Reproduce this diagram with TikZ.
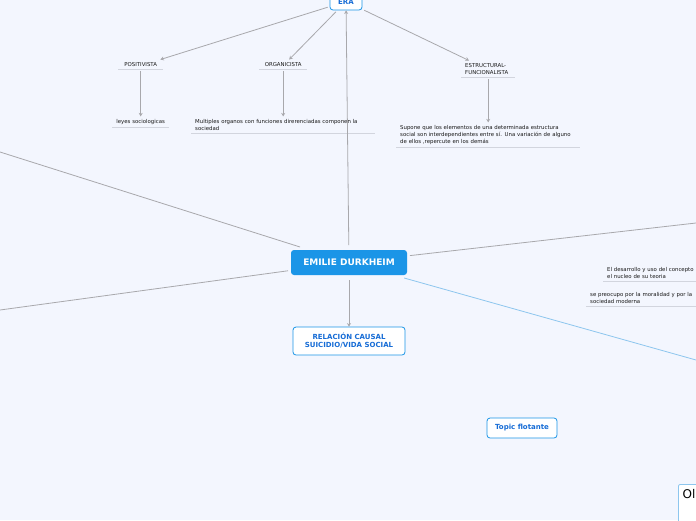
\documentclass[tikz,border=0pt]{standalone}
\usepackage{fontspec}
\setmainfont{DejaVu Sans}
\usetikzlibrary{arrows.meta, positioning}
\definecolor{bgcol}{RGB}{243,246,254}
\definecolor{mainblue}{RGB}{27,149,231}
\definecolor{textblue}{RGB}{22,108,214}
\definecolor{linegray}{RGB}{168,168,172}
\definecolor{ulgray}{RGB}{210,213,222}
\definecolor{lightblue}{RGB}{141,198,238}

\begin{document}
\begin{tikzpicture}[x=1pt,y=-1pt]

	\tikzset{
		main/.style={
				rounded corners=3pt, fill=mainblue, text=white, inner sep=0pt, outer sep=3pt, minimum width=116pt, minimum height=25pt, font=\fontsize{9}{11}\selectfont\bfseries
			},
		topic/.style={
				rounded corners=3pt, draw=mainblue, fill=white, text=textblue, line width=0.8pt, inner sep=0pt, align=center, font=\fontsize{7}{8}\selectfont\bfseries
			},
		leaf/.style={
				anchor=south west, text=black!90, align=left, inner xsep=4pt, inner ysep=2.5pt, font=\fontsize{5.4}{7}\selectfont,
				append after command={(\tikzlastnode.south west) edge[draw=ulgray, line width=0.8pt] (\tikzlastnode.south east)}
			},
		link/.style={
				draw=linegray, line width=0.8pt
			},
		arr/.style={
				link, -{Stealth[length=3.5pt, width=4pt]}, shorten <=2pt
			},
	}
	\useasboundingbox[fill=bgcol] (0,0) rectangle (696,520);
	\clip (0,0) rectangle (696,520);

	\node[main](c1) at (349,262.5){EMILIE DURKHEIM};
	\node[topic, minimum width=32pt, minimum height=17pt](e1) at (346,1.5){ERA};
	\node[topic, minimum width=112pt, minimum height=28pt](r1) at (349,341){RELACIÓN CAUSAL\\SUICIDIO/VIDA SOCIAL};
	\node[topic, minimum width=70pt, minimum height=20pt](t1) at (522,428){Topic flotante};

	\node[leaf, minimum width=45pt](p1) at (118,69){POSITIVISTA};
	\node[leaf, minimum width=57pt](l1) at (112,127){leyes sociologicas};
	\node[leaf, minimum width=48pt](o1) at (259,69){ORGANICISTA};
	\node[leaf, text width=176pt](m1) at (191,133){Multiples organos con funciones direrenciadas componen la\\
		sociedad};
	\node[leaf, text width=46pt](f1) at (461,77){ESTRUCTURAL-\\
		FUNCIONALISTA};
	\node[leaf, text width=176pt](s1) at (396,147){Supone que los elementos de una determinada estructura\\
		social son interdependientes entre sí. Una variación de alguno\\
		de ellos ,repercute en los demás};
	\node[leaf, text width=100pt](d1) at (603,281){El desarrollo y uso del concepto\\
		el nucleo de su teoria};
	\node[leaf, text width=110pt](v1) at (586,306){se preocupo por la moralidad y por la\\
		sociedad moderna};

	\node[draw=lightblue, fill=white, rounded corners=2pt, line width=0.8pt, anchor=north west, minimum width=40pt, minimum height=50pt](b1) at (678,484){};
	\node[anchor=north west, inner sep=0pt, font=\fontsize{12}{14}\selectfont](b2) at ([xshift=4.5pt, yshift=-5pt]b1.north west){Ol};

	\coordinate (k1) at (0,152);
	\coordinate (k2) at (0,310);
	\coordinate (k3) at (696,223);
	\coordinate (k4) at (696,360);

	\draw[arr] (c1)--(e1);
	\draw[arr] (c1)--(r1);
	\draw[link] (c1)--(k1);
	\draw[link] (c1)--(k2);
	\draw[link] (c1)--(k3);
	\draw[draw=lightblue, line width=0.8pt] (c1)--(k4);
	\draw[arr] (e1)--([xshift=-3pt]p1.north east);
	\draw[arr] (e1)--([xshift=6pt]o1.north);
	\draw[arr] (e1)--([xshift=8pt]f1.north west);
	\draw[arr] (p1.south)--(p1.south |- l1.north);
	\draw[arr] (o1.south)--(o1.south |- m1.north);
	\draw[arr] (f1.south)--(f1.south |- s1.north);

\end{tikzpicture}
\end{document}
